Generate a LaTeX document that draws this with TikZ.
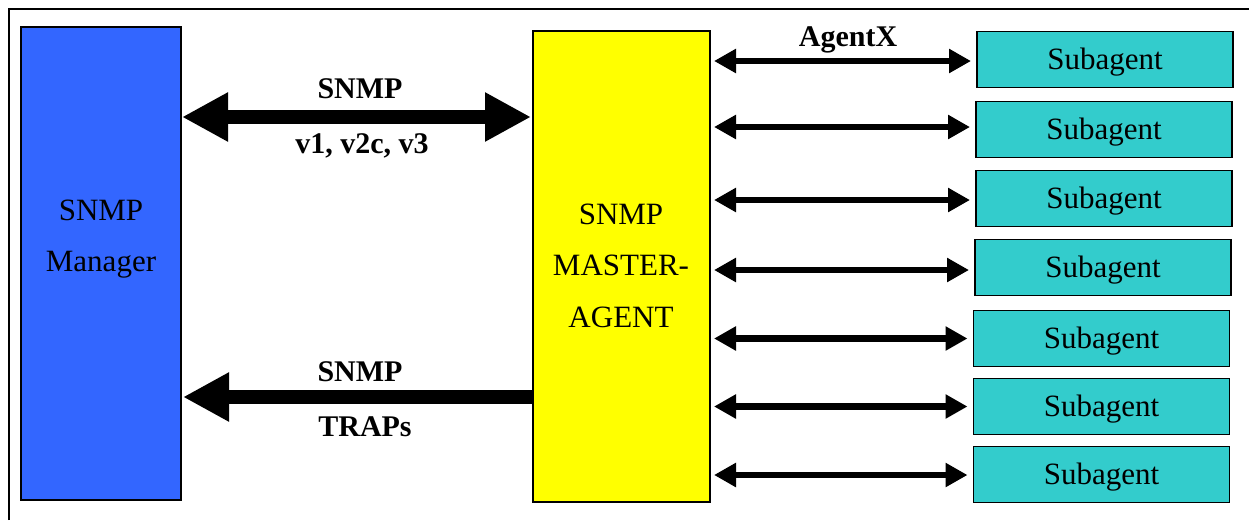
\documentclass[tikz,border=0pt]{standalone}
\usepackage{fontspec}
\setmainfont{Liberation Serif}
\usetikzlibrary{arrows.meta}
\definecolor{mgrblue}{HTML}{3366FF}
\definecolor{mayellow}{HTML}{FFFF00}
\definecolor{subteal}{HTML}{33CCCC}
\begin{document}
\begin{tikzpicture}[x=1pt,y=-1pt,
  boxbase/.style={draw=black, line width=1.8pt, inner sep=0pt, outer sep=0pt},
  mgrbox/.style={boxbase, fill=mgrblue, minimum width=160pt, minimum height=473pt},
  mabox/.style={boxbase, fill=mayellow, minimum width=177pt, minimum height=471pt},
  subbox/.style={boxbase, fill=subteal, minimum width=256pt, minimum height=56pt,
     font=\fontsize{31}{31}\selectfont, text height=20.5pt, text depth=0pt},
  boxtext/.style={inner sep=0pt, anchor=base, font=\fontsize{31}{31}\selectfont},
  lbl/.style={inner sep=0pt, anchor=base, font=\fontsize{30}{30}\selectfont\bfseries},
  agx/.style={line width=6.5pt, {Triangle[length=22pt,width=23pt]}-{Triangle[length=22pt,width=23pt]},
     shorten <=4pt, shorten >=6pt},
  bigarrow/.style={line width=14pt, shorten <=1pt, shorten >=2pt},
  bigtip/.style={Triangle[length=46pt,width=46pt]}
]
\useasboundingbox (0,0) rectangle (1249,520);
% outer frame (top and left edges visible)
\draw[line width=1.5pt] (9,520) -- (9,9) -- (1249,9);

% manager
\node[mgrbox] (mgr) at (101,263.5) {};
\node[boxtext] (mgrt1) at (101,220) {SNMP};
\node[boxtext] (mgrt2) at (101,271) {Manager};

% master agent
\node[mabox] (ma) at (621.5,266.5) {};
\node[boxtext] (mat1) at (621,224) {SNMP};
\node[boxtext] (mat2) at (621,275) {MASTER-};
\node[boxtext] (mat3) at (621,327) {AGENT};

% subagents
\node[subbox] (s1) at (1105,59.5) {Subagent};
\node[subbox] (s2) at (1104,129.5) {Subagent};
\node[subbox] (s3) at (1104,198.5) {Subagent};
\node[subbox] (s4) at (1103,267.5) {Subagent};
\node[subbox] (s5) at (1101.5,338.5) {Subagent};
\node[subbox] (s6) at (1101.5,406.5) {Subagent};
\node[subbox] (s7) at (1101.5,474.5) {Subagent};

% AgentX arrows
\foreach \s/\dy in {s1/1.5,s2/-2.5,s3/1.5,s4/2.5,s5/0,s6/0,s7/0.5}{
  \draw[agx] ([yshift=-\dy pt]ma.east |- \s.west) -- ([yshift=-\dy pt]\s.west);
}
\node[lbl] (agentx) at (848,46) {AgentX};

% SNMP request/response arrow
\draw[bigarrow, {Triangle[length=46pt,width=46pt]}-{Triangle[length=46pt,width=46pt]}]
  ([yshift=146.5pt]mgr.east) -- ([yshift=149.5pt]ma.west);
\node[lbl] (snmp1) at (360,98) {SNMP};
\node[lbl] (ver) at (362,153) {v1, v2c, v3};

% SNMP traps arrow
\draw[line width=14pt, shorten >=2pt, -{Triangle[length=46pt,width=46pt]}]
  ([yshift=-130.5pt]ma.west) -- ([yshift=-133.5pt]mgr.east);
\node[lbl] (snmp2) at (360,381) {SNMP};
\node[lbl] (traps) at (365,436) {TRAPs};
\end{tikzpicture}
\end{document}
